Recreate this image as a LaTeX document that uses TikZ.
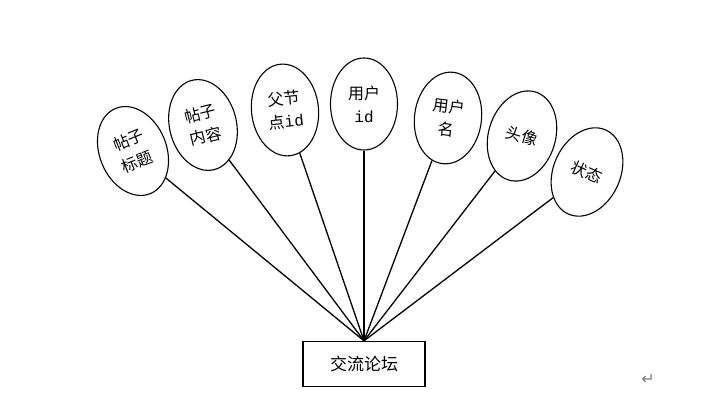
\documentclass[tikz,border=0pt]{standalone}
\usepackage{fontspec}
\setmainfont{Noto Sans CJK SC}
\setmonofont{Liberation Mono}
\newfontfamily\symfont{DejaVu Sans}
\usetikzlibrary{shapes.geometric}

\tikzset{
  attr/.style={draw,ellipse,line width=1.1pt,minimum width=67pt,minimum height=92pt,
    inner sep=1pt,align=center,font=\fontsize{16}{23}\selectfont},
  entity/.style={draw,rectangle,line width=1.3pt,minimum width=122pt,minimum height=45pt,
    font=\fontsize{17}{20}\selectfont},
  link/.style={line width=1.3pt}
}

\begin{document}
\begin{tikzpicture}[x=1pt,y=1pt]
  \useasboundingbox (0,0) rectangle (701,401);
  % entity
  \node[entity] (forum) at (364,37){交流论坛};
  % attributes
  \node[attr,rotate=22] (title) at (133,250){帖子\\标题};
  \node[attr,rotate=14] (content) at (203,276){帖子\\内容};
  \node[attr,rotate=6] (parent) at (285,291){父节\\点\texttt{id}};
  \node[attr] (uid) at (364,297){用户\\\texttt{id}};
  \node[attr,rotate=-7] (uname) at (448,283){用户\\名};
  \node[attr,rotate=-17] (avatar) at (522,265){头像};
  \node[attr,rotate=-24] (state) at (587,229){状态};
  \foreach \a in {title,content,parent,uid,uname,avatar,state}
    \draw[link] (\a) -- (forum.north);
  \node[text=gray,font=\symfont\fontsize{16}{16}\selectfont] (mark) at (648,22){↵};
\end{tikzpicture}
\end{document}
